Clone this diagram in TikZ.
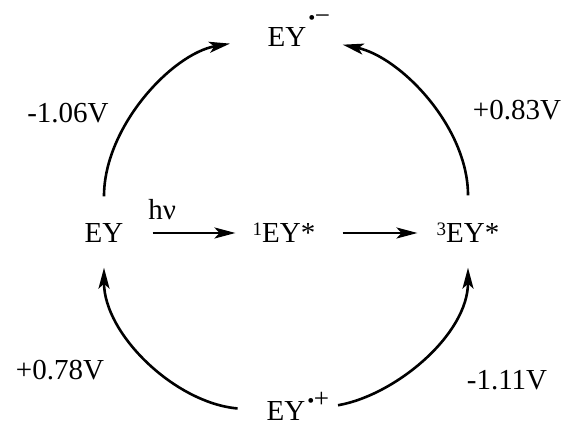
\documentclass[tikz,border=0pt]{standalone}
\usepackage{fontspec}
\setmainfont{Liberation Serif}
\usepackage{tikz}
\usetikzlibrary{arrows.meta, positioning}

\newcommand{\radsup}[2]{\rlap{\raisebox{#1}{\fontsize{20}{20}\selectfont\kern2pt•\kern-0.5pt\fontsize{27}{27}\selectfont#2}}}
\newcommand{\lvl}[1]{\raisebox{7pt}{\fontsize{19}{19}\selectfont#1}}

\begin{document}
\begin{tikzpicture}[>={Stealth[length=21pt,width=11pt,inset=5pt]}, x=1pt, y=1pt,
    species/.style={inner sep=0pt, text height=19pt, text depth=0pt, font=\fontsize{29}{34}\selectfont},
    pot/.style={font=\fontsize{29}{34}\selectfont},
    arr/.style={->, line width=2.6pt}]
    \useasboundingbox (0,0) rectangle (568,427);

    % Cac trang thai
    \node[species] (ey) at (104,194) {EY};
    \node[species] (sing) at (284,194) {\lvl{1}EY*};
    \node[species] (trip) at (468,194) {\lvl{3}EY*};
    \node[species] (anion) at (287,390) {EY\radsup{22pt}{−}};
    \node[species] (cation) at (286,16) {EY\radsup{13pt}{+}};

    % Kich thich va chuyen trang thai
    \draw[arr, shorten <=29pt, shorten >=17pt] (ey.east) -- node[above=12pt, pos=0.3, inner sep=0pt, pot] (hv) {hν} (sing.west);
    \draw[arr, shorten <=27pt, shorten >=19pt] (sing.east) -- (trip.west);

    % Cac cung oxi hoa khu
    \draw[arr, shorten <=27pt, shorten >=38pt] (ey.north) to[out=90, in=190] (anion.west);
    \draw[arr, shorten <=28pt, shorten >=37pt] (trip.north) to[out=90, in=-12] (anion.east);
    \draw[arr, shorten <=29pt, shorten >=25pt] (cation.west) to[out=175, in=-90] (ey.south);
    \draw[arr, shorten <=33pt, shorten >=25pt] (cation.east) to[out=10, in=-90] (trip.south);

    % The khu
    \node[pot] (e1) at (68,314) {-1.06V};
    \node[pot] (e2) at (517,317) {+0.83V};
    \node[pot] (e3) at (60,57) {+0.78V};
    \node[pot] (e4) at (507,47) {-1.11V};
\end{tikzpicture}
\end{document}
